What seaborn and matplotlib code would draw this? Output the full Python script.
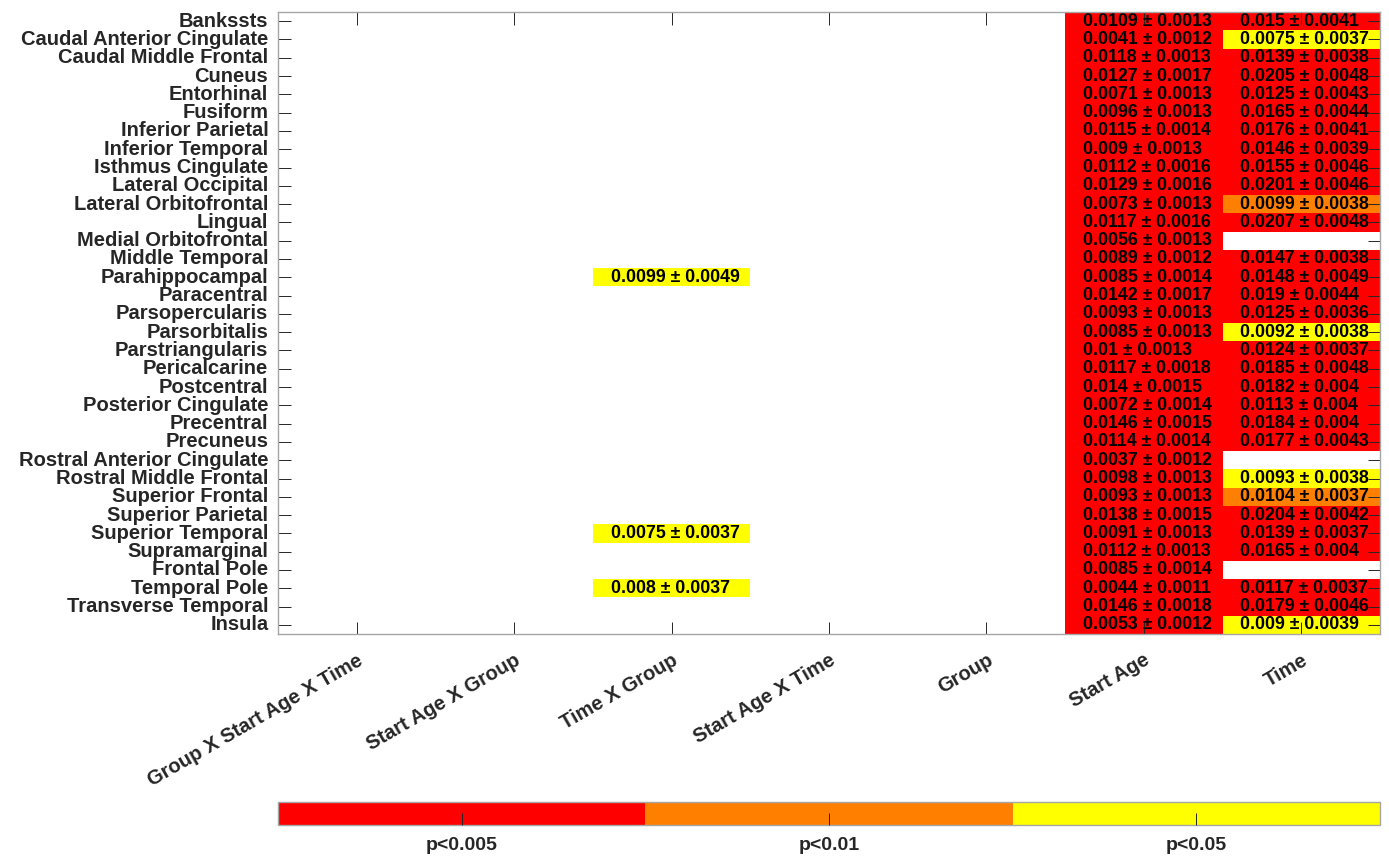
import numpy as np
import pandas as pd
import matplotlib
matplotlib.use("Agg")
import matplotlib.pyplot as plt
from matplotlib.colors import ListedColormap, BoundaryNorm
from matplotlib.cm import ScalarMappable
import seaborn as sns

# ---------------- data ----------------
regions = [
    "Bankssts", "Caudal Anterior Cingulate", "Caudal Middle Frontal", "Cuneus",
    "Entorhinal", "Fusiform", "Inferior Parietal", "Inferior Temporal",
    "Isthmus Cingulate", "Lateral Occipital", "Lateral Orbitofrontal", "Lingual",
    "Medial Orbitofrontal", "Middle Temporal", "Parahippocampal", "Paracentral",
    "Parsopercularis", "Parsorbitalis", "Parstriangularis", "Pericalcarine",
    "Postcentral", "Posterior Cingulate", "Precentral", "Precuneus",
    "Rostral Anterior Cingulate", "Rostral Middle Frontal", "Superior Frontal",
    "Superior Parietal", "Superior Temporal", "Supramarginal", "Frontal Pole",
    "Temporal Pole", "Transverse Temporal", "Insula",
]

effects = ["Group X Start Age X Time", "Start Age X Group", "Time X Group",
           "Start Age X Time", "Group", "Start Age", "Time"]

# significance levels: 0 = n.s., 1 = p<0.005, 2 = p<0.01, 3 = p<0.05
level_names = ["p<0.005", "p<0.01", "p<0.05"]
level_colors = ["#FF0000", "#FF8000", "#FFFF00"]

start_age_est = [0.0109, 0.0041, 0.0118, 0.0127, 0.0071, 0.0096, 0.0115, 0.009,
                 0.0112, 0.0129, 0.0073, 0.0117, 0.0056, 0.0089, 0.0085, 0.0142,
                 0.0093, 0.0085, 0.01, 0.0117, 0.014, 0.0072, 0.0146, 0.0114,
                 0.0037, 0.0098, 0.0093, 0.0138, 0.0091, 0.0112, 0.0085, 0.0044,
                 0.0146, 0.0053]
start_age_se = [0.0013, 0.0012, 0.0013, 0.0017, 0.0013, 0.0013, 0.0014, 0.0013,
                0.0016, 0.0016, 0.0013, 0.0016, 0.0013, 0.0012, 0.0014, 0.0017,
                0.0013, 0.0013, 0.0013, 0.0018, 0.0015, 0.0014, 0.0015, 0.0014,
                0.0012, 0.0013, 0.0013, 0.0015, 0.0013, 0.0013, 0.0014, 0.0011,
                0.0018, 0.0012]
start_age_level = [1] * 34

time_est = [0.015, 0.0075, 0.0139, 0.0205, 0.0125, 0.0165, 0.0176, 0.0146,
            0.0155, 0.0201, 0.0099, 0.0207, None, 0.0147, 0.0148, 0.019,
            0.0125, 0.0092, 0.0124, 0.0185, 0.0182, 0.0113, 0.0184, 0.0177,
            None, 0.0093, 0.0104, 0.0204, 0.0139, 0.0165, None, 0.0117,
            0.0179, 0.009]
time_se = [0.0041, 0.0037, 0.0038, 0.0048, 0.0043, 0.0044, 0.0041, 0.0039,
           0.0046, 0.0046, 0.0038, 0.0048, None, 0.0038, 0.0049, 0.0044,
           0.0036, 0.0038, 0.0037, 0.0048, 0.004, 0.004, 0.004, 0.0043,
           None, 0.0038, 0.0037, 0.0042, 0.0037, 0.004, None, 0.0037,
           0.0046, 0.0039]
time_level = [1, 3, 1, 1, 1, 1, 1, 1, 1, 1, 2, 1, 0, 1, 1, 1, 1, 3, 1, 1, 1, 1,
              1, 1, 0, 3, 2, 1, 1, 1, 0, 1, 1, 3]

# Time X Group: significant regions only
time_group_regions = ["Parahippocampal", "Superior Temporal", "Temporal Pole"]
time_group_est = [0.0099, 0.0075, 0.008]
time_group_se = [0.0049, 0.0037, 0.0037]
time_group_level = [3, 3, 3]

# ---------------- build tables ----------------
levels = pd.DataFrame(0, index=regions, columns=effects, dtype=float)
annot = pd.DataFrame("", index=regions, columns=effects, dtype=object)


def fmt(v):
    return f"{v:g}"


for r, e, s, lv in zip(regions, start_age_est, start_age_se, start_age_level):
    levels.loc[r, "Start Age"] = lv
    if lv:
        annot.loc[r, "Start Age"] = f"{fmt(e)} ± {fmt(s)}"
for r, e, s, lv in zip(regions, time_est, time_se, time_level):
    levels.loc[r, "Time"] = lv
    if lv:
        annot.loc[r, "Time"] = f"{fmt(e)} ± {fmt(s)}"
for r, e, s, lv in zip(time_group_regions, time_group_est, time_group_se, time_group_level):
    levels.loc[r, "Time X Group"] = lv
    annot.loc[r, "Time X Group"] = f"{fmt(e)} ± {fmt(s)}"

# ---------------- plot ----------------
sns.set_style("white")
plt.rcParams["font.family"] = ["Liberation Sans", "DejaVu Sans"]
plt.rcParams["font.weight"] = "bold"
plt.rcParams["axes.axisbelow"] = False

W, H = 1389, 857
LABEL_SIZE = 14.5
fig = plt.figure(figsize=(W / 100, H / 100), dpi=100)
ax = fig.add_axes([278 / W, 1 - 634 / H, 1102 / W, 622 / H])

cmap = ListedColormap(["#FFFFFF"] + level_colors)
sns.heatmap(levels, ax=ax, cmap=cmap, vmin=-0.5, vmax=3.5, cbar=False,
            annot=annot, fmt="", xticklabels=True, yticklabels=True,
            annot_kws=dict(color="black", fontsize=12.8, fontweight="bold"))
ax.set_axisbelow(False)

# left-align annotations inside their cells (MATLAB style)
for t in ax.texts:
    x, y = t.get_position()
    t.set_position((x - 0.5 + 0.113, y))
    t.set_ha("left")

ax.set_xlabel("")
ax.set_ylabel("")
for s in ax.spines.values():
    s.set_visible(True)
    s.set_color("#A6A6A6")
    s.set_linewidth(1.0)
    s.set_zorder(5)

ax.tick_params(axis="both", which="major", direction="in", length=9, width=0.7,
               color="#262626", labelcolor="#262626", labelsize=LABEL_SIZE,
               bottom=True, left=True, top=True, right=True,
               labelbottom=True, labelleft=True, labeltop=False, labelright=False)
ax.tick_params(axis="y", pad=7)
ax.tick_params(axis="x", pad=12)
for lab in ax.get_yticklabels():
    lab.set_rotation(0)
    lab.set_fontweight("bold")
for lab in ax.get_xticklabels():
    lab.set_rotation(30)
    lab.set_ha("right")
    lab.set_va("top")
    lab.set_rotation_mode("anchor")
    lab.set_fontweight("bold")

# ---------------- colorbar ----------------
cax = fig.add_axes([278 / W, 1 - 825 / H, 1102 / W, 23 / H])
norm = BoundaryNorm([0, 1, 2, 3], 3)
sm = ScalarMappable(norm=norm, cmap=ListedColormap(level_colors))
cb = fig.colorbar(sm, cax=cax, orientation="horizontal", ticks=[0.5, 1.5, 2.5])
cb.set_ticklabels(level_names)
cb.minorticks_off()
cax.set_axisbelow(False)
cb.outline.set_edgecolor("#A6A6A6")
cb.outline.set_linewidth(1.0)
cax.tick_params(axis="x", which="major", direction="in", length=9, width=0.7,
                color="#262626", labelcolor="#262626", labelsize=14,
                bottom=True, labelbottom=True, pad=9)
for lab in cax.get_xticklabels():
    lab.set_fontweight("bold")

fig.savefig("out.png", dpi=100)
